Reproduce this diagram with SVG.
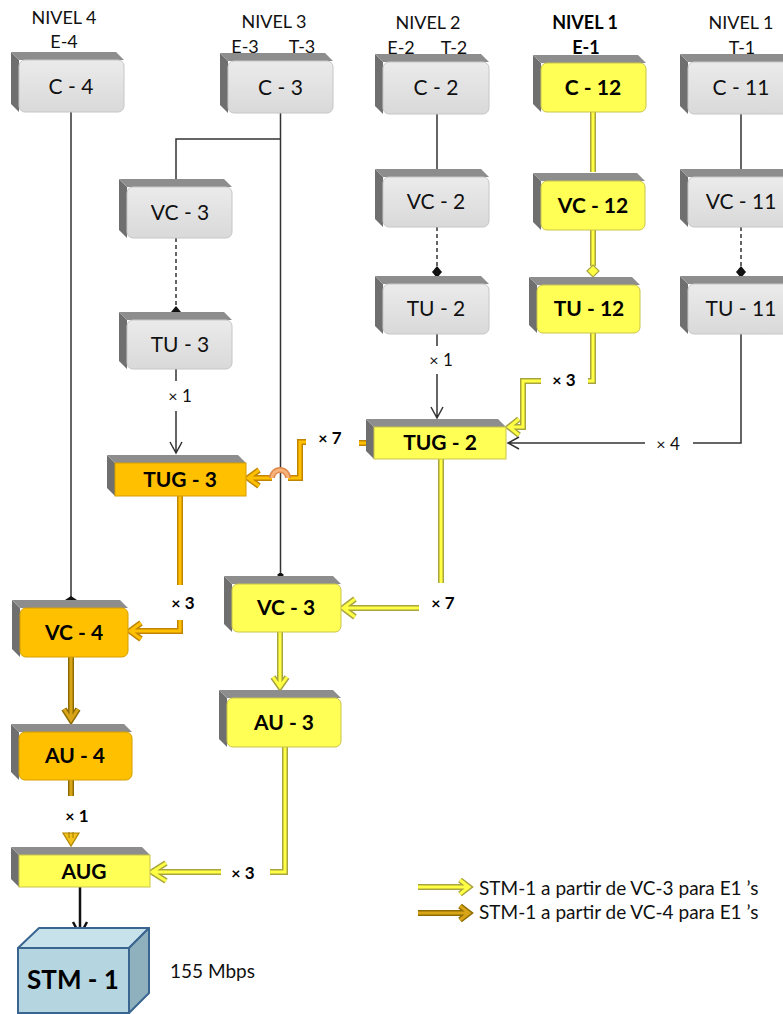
<svg xmlns="http://www.w3.org/2000/svg" width="783" height="1014" viewBox="0 0 783 1014">
<style>
.sl{fill:#6f6f6f}
.st{fill:#8d8d8d}
.fg{fill:url(#gg);stroke:#c6c6c6;stroke-width:1}
.fy{fill:#ffff55;stroke:#c9c44a;stroke-width:1}
.fo{fill:#ffc000;stroke:#d49e00;stroke-width:1}
text{font-family:Lato,"Liberation Sans",sans-serif;fill:#111}
.t{font-size:21px;text-anchor:middle}
.b{font-weight:bold;fill:#000}
.h{font-size:18px;text-anchor:middle}
.lb{font-size:17px;text-anchor:middle}
.x{font-size:16px}
.k{stroke:#333;stroke-width:1.5;fill:none}
.kd{stroke:#333;stroke-width:1.5;fill:none;stroke-dasharray:4 3}
.kf{fill:#111}
.yo{stroke:#a8a440;stroke-width:6;fill:none}
.yi{stroke:#ffff44;stroke-width:3;fill:none}
.oo{stroke:#c08400;stroke-width:6;fill:none}
.oi{stroke:#ffc000;stroke-width:3;fill:none}
.go{stroke:#8e6c00;stroke-width:6;fill:none}
.gi{stroke:#d8a418;stroke-width:3;fill:none}
</style>
<defs>
<linearGradient id="gg" x1="0" y1="0" x2="0" y2="1"><stop offset="0" stop-color="#ebebeb"/><stop offset="1" stop-color="#d9d9d9"/></linearGradient>
</defs>

<g id="headers">
<text class="h" x="64" y="24">NIVEL 4</text>
<text class="h" x="64" y="48">E-4</text>
<text class="h" x="274" y="28">NIVEL 3</text>
<text class="h" x="245" y="53">E-3</text>
<text class="h" x="302" y="53">T-3</text>
<text class="h" x="428" y="29">NIVEL 2</text>
<text class="h" x="401" y="54">E-2</text>
<text class="h" x="454" y="54">T-2</text>
<text class="h b" x="585" y="29">NIVEL 1</text>
<text class="h b" x="586" y="54">E-1</text>
<text class="h" x="741" y="29">NIVEL 1</text>
<text class="h" x="742" y="54">T-1</text>
</g>

<g id="connectors">
<!-- black -->
<path class="k" d="M71,112 V597"/>
<polygon class="kf" points="65,600 71,596 77,600 71,604"/>
<path class="k" d="M280.5,113 V572 M280.5,139 H176 V181 M168,181 H184"/>
<polygon class="kf" points="277,575 280.5,572 284,575 280.5,578"/>
<path class="kd" d="M176,238 V307"/>
<polygon class="kf" points="171,312 176,306 181,312 176,318"/>
<path class="k" d="M176,369 V381 M176,411 V452 M170,442 L176,453 L182,442"/>
<path class="k" d="M437,114 V172 M428,172 H446"/>
<path class="kd" d="M437,227 V267"/>
<polygon class="kf" points="432,272 437,266 442,272 437,278"/>
<path class="k" d="M437,334 V346 M437,374 V418 M431,407 L437,418 L443,407"/>
<path class="k" d="M741,114 V172 M732,172 H750"/>
<path class="kd" d="M741,227 V267"/>
<polygon class="kf" points="736,272 741,266 746,272 741,278"/>
<path class="k" d="M741,334 V443 H693 M645,443 H508 M519,437 L508,443 L519,449"/>
<path d="M80,887 V933 M73,922 L80,935 L87,922" stroke="#111" stroke-width="2.5" fill="none"/>

<!-- yellow (VC-3 path) outlines -->
<path class="yo" d="M593,112 V172"/>
<path class="yo" d="M593,230 V266"/>
<path class="yo" d="M593,333 V381 H588 M541,381 H523 V427 H509 M519,419 L509,427 L519,435"/>
<path class="yo" d="M441,459 V583 M419,608 H343 M355,599 L343,608 L355,617"/>
<path class="yo" d="M280,632 V687 M273,677 L280,687 L287,677"/>
<path class="yo" d="M285,747 V872 H270 M221,872 H152 M166,863 L152,872 L166,881"/>
<path class="yo" d="M418,887 H468 M460,880 L469,887 L460,894"/>
<!-- yellow inner -->
<path class="yi" d="M593,112 V172"/>
<path class="yi" d="M593,230 V266"/>
<path class="yi" d="M593,333 V381 H588 M541,381 H523 V427 H509 M519,419 L509,427 L519,435"/>
<path class="yi" d="M441,459 V583 M419,608 H343 M355,599 L343,608 L355,617"/>
<path class="yi" d="M280,632 V687 M273,677 L280,687 L287,677"/>
<path class="yi" d="M285,747 V872 H270 M221,872 H152 M166,863 L152,872 L166,881"/>
<path class="yi" d="M418,887 H468 M460,880 L469,887 L460,894"/>
<polygon points="587,271 593,265 599,271 593,277" fill="#ffff44" stroke="#a8a440" stroke-width="1.2"/>

<!-- orange (TUG-3 path) -->
<path class="oo" d="M367,443 H359 M306,442 H300 V478 H288 M272,478 H248 M259,470 L248,478 L259,486"/>
<path class="oo" d="M180,496 V585 M180,620 V631 H130 M141,623 L130,631 L141,639"/>
<path class="oi" d="M367,443 H359 M306,442 H300 V478 H288 M272,478 H248 M259,470 L248,478 L259,486"/>
<path class="oi" d="M180,496 V585 M180,620 V631 H130 M141,623 L130,631 L141,639"/>
<path d="M288,478 A8,8 0 0 0 272,478" stroke="#e08a50" stroke-width="6" fill="none"/>
<path d="M288,478 A8,8 0 0 0 272,478" stroke="#f8b27a" stroke-width="3" fill="none"/>

<!-- dark gold (VC-4 path) -->
<path class="go" d="M71,657 V720 M64,709 L71,720 L78,709"/>
<path class="go" d="M71,780 V796"/>
<path class="go" d="M418,913 H468 M460,906 L469,913 L460,920"/>
<path class="gi" d="M71,657 V720 M64,709 L71,720 L78,709"/>
<path class="gi" d="M71,780 V796"/>
<path class="gi" d="M418,913 H468 M460,906 L469,913 L460,920"/>
<polygon points="63,833 79,833 71,846" fill="#f2c21c" stroke="#b08400" stroke-width="1.2"/>
<path d="M69,832 V838 M73,832 V838" stroke="#a07800" stroke-width="1"/>

<!-- multiplicity labels -->
<text class="lb" x="180" y="402"><tspan class="x">×</tspan> 1</text>
<text class="lb" x="441" y="366"><tspan class="x">×</tspan> 1</text>
<text class="lb" x="668" y="450"><tspan class="x">×</tspan> 4</text>
<text class="lb b" x="564" y="386"><tspan class="x">×</tspan> 3</text>
<text class="lb b" x="330" y="444"><tspan class="x">×</tspan> 7</text>
<text class="lb b" x="183" y="609"><tspan class="x">×</tspan> 3</text>
<text class="lb b" x="443" y="609"><tspan class="x">×</tspan> 7</text>
<text class="lb b" x="243" y="879"><tspan class="x">×</tspan> 3</text>
<text class="lb b" x="77" y="822"><tspan class="x">×</tspan> 1</text>
</g>

<g id="n-c4"><polygon class="sl" points="11,52 19,60 19,112 11,104"/><polygon class="st" points="11,52 116,52 124,60 19,60"/><rect class="fg" x="19" y="60" width="105" height="52" rx="6"/><text class="t" x="71" y="94">C - 4</text></g>
<g id="n-c3"><polygon class="sl" points="220,53 228,61 228,113 220,105"/><polygon class="st" points="220,53 325,53 333,61 228,61"/><rect class="fg" x="228" y="61" width="105" height="52" rx="6"/><text class="t" x="280.5" y="95">C - 3</text></g>
<g id="n-c2"><polygon class="sl" points="375,54 383,62 383,114 375,106"/><polygon class="st" points="375,54 481,54 489,62 383,62"/><rect class="fg" x="383" y="62" width="106" height="52" rx="6"/><text class="t" x="436" y="95">C - 2</text></g>
<g id="n-c12"><polygon class="sl" points="533,55 541,63 541,112 533,104"/><polygon class="st" points="533,55 638,55 646,63 541,63"/><rect class="fy" x="541" y="63" width="105" height="49" rx="6"/><text class="t b" x="593" y="95">C - 12</text></g>
<g id="n-c11"><polygon class="sl" points="680,54 688,62 688,114 680,106"/><polygon class="st" points="680,54 786,54 794,62 688,62"/><rect class="fg" x="688" y="62" width="106" height="52" rx="6"/><text class="t" x="741" y="95">C - 11</text></g>

<g id="n-vc3a"><polygon class="sl" points="119,179 127,187 127,238 119,230"/><polygon class="st" points="119,179 224,179 232,187 127,187"/><rect class="fg" x="127" y="187" width="105" height="51" rx="6"/><text class="t" x="180" y="220">VC - 3</text></g>
<g id="n-vc2"><polygon class="sl" points="375,169 383,177 383,227 375,219"/><polygon class="st" points="375,169 481,169 489,177 383,177"/><rect class="fg" x="383" y="177" width="106" height="50" rx="6"/><text class="t" x="436" y="209">VC - 2</text></g>
<g id="n-vc12"><polygon class="sl" points="533,173 541,181 541,230 533,222"/><polygon class="st" points="533,173 637,173 645,181 541,181"/><rect class="fy" x="541" y="181" width="104" height="49" rx="6"/><text class="t b" x="593" y="213">VC - 12</text></g>
<g id="n-vc11"><polygon class="sl" points="680,169 688,177 688,227 680,219"/><polygon class="st" points="680,169 786,169 794,177 688,177"/><rect class="fg" x="688" y="177" width="106" height="50" rx="6"/><text class="t" x="741" y="209">VC - 11</text></g>

<g id="n-tu3"><polygon class="sl" points="119,312 127,320 127,369 119,361"/><polygon class="st" points="119,312 224,312 232,320 127,320"/><rect class="fg" x="127" y="320" width="105" height="49" rx="6"/><text class="t" x="180" y="352">TU - 3</text></g>
<g id="n-tu2"><polygon class="sl" points="375,276 383,284 383,334 375,326"/><polygon class="st" points="375,276 481,276 489,284 383,284"/><rect class="fg" x="383" y="284" width="106" height="50" rx="6"/><text class="t" x="436" y="316">TU - 2</text></g>
<g id="n-tu12"><polygon class="sl" points="529,277 537,285 537,333 529,325"/><polygon class="st" points="529,277 632,277 640,285 537,285"/><rect class="fy" x="537" y="285" width="103" height="48" rx="6"/><text class="t b" x="589" y="316">TU - 12</text></g>
<g id="n-tu11"><polygon class="sl" points="680,276 688,284 688,334 680,326"/><polygon class="st" points="680,276 786,276 794,284 688,284"/><rect class="fg" x="688" y="284" width="106" height="50" rx="6"/><text class="t" x="741" y="316">TU - 11</text></g>

<g id="n-tug2"><polygon class="sl" points="366,419 374,427 374,459 366,451"/><polygon class="st" points="366,419 498,419 506,427 374,427"/><rect class="fy" x="374" y="427" width="132" height="32"/><text class="t b" x="440" y="450">TUG - 2</text></g>
<g id="n-tug3"><polygon class="sl" points="107,455 115,463 115,496 107,488"/><polygon class="st" points="107,455 238,455 246,463 115,463"/><rect class="fo" x="115" y="463" width="131" height="33"/><text class="t b" x="180" y="487">TUG - 3</text></g>

<g id="n-vc4"><polygon class="sl" points="12,600 20,608 20,657 12,649"/><polygon class="st" points="12,600 120,600 128,608 20,608"/><rect class="fo" x="20" y="608" width="108" height="49" rx="6"/><text class="t b" x="74" y="640">VC - 4</text></g>
<g id="n-vc3b"><polygon class="sl" points="224,576 232,584 232,632 224,624"/><polygon class="st" points="224,576 333,576 341,584 232,584"/><rect class="fy" x="232" y="584" width="109" height="48" rx="6"/><text class="t b" x="286" y="615">VC - 3</text></g>
<g id="n-au3"><polygon class="sl" points="219,690 227,698 227,747 219,739"/><polygon class="st" points="219,690 333,690 341,698 227,698"/><rect class="fy" x="227" y="698" width="114" height="49" rx="6"/><text class="t b" x="284" y="730">AU - 3</text></g>
<g id="n-au4"><polygon class="sl" points="11,724 19,732 19,780 11,772"/><polygon class="st" points="11,724 124,724 132,732 19,732"/><rect class="fo" x="19" y="732" width="113" height="48" rx="6"/><text class="t b" x="75" y="763">AU - 4</text></g>
<g id="n-aug"><polygon class="sl" points="11,847 19,855 19,887 11,879"/><polygon class="st" points="11,847 142,847 150,855 19,855"/><rect class="fy" x="19" y="855" width="131" height="32"/><text class="t b" x="84" y="879">AUG</text></g>

<g id="n-stm1">
<polygon points="18,948 39,928 149,928 129,948" fill="#c8e2ec" stroke="#3a6590" stroke-width="2" stroke-linejoin="round"/>
<polygon points="129,948 149,928 149,993 129,1013" fill="#8fb1bd" stroke="#3a6590" stroke-width="2" stroke-linejoin="round"/>
<rect x="18" y="948" width="111" height="65" fill="#b5d5e1" stroke="#3a6590" stroke-width="2"/>
<text class="b" x="73" y="989" font-size="26" text-anchor="middle">STM - 1</text>
</g>
<text x="170" y="978" font-size="19">155 Mbps</text>

<g id="legend">
<text x="479" y="895" font-size="19">STM-1 a partir de VC-3 para E1 ’s</text>
<text x="479" y="919" font-size="19">STM-1 a partir de VC-4 para E1 ’s</text>
</g>
</svg>
